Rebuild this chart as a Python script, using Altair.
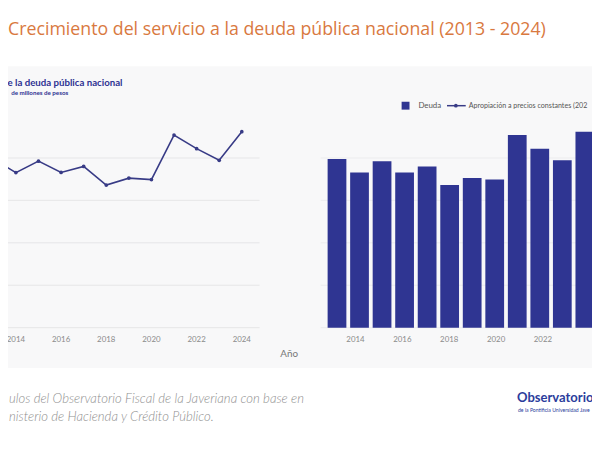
import altair as alt
import pandas as pd

# ---- data ----
years = list(range(2013, 2025))
servicio_deuda = [79500, 73100, 78500, 73200, 76000, 67200, 70500, 69800, 90800, 84400, 78900, 92400]
grid_values = [0, 20000, 40000, 60000, 80000]
tick_years = [2014, 2016, 2018, 2020, 2022, 2024]
tick_labels = ["2014", "2016", "2018", "2020", "2022", "2024"]

df = pd.DataFrame({"year": years, "valor": servicio_deuda})
grid_df = pd.DataFrame({"v": grid_values})
ticks_df = pd.DataFrame({"year": tick_years, "lab": tick_labels})
ticks_r_df = pd.DataFrame({"year": tick_years[:-1], "lab": tick_labels[:-1]})

W, H = 592, 442
FONT = "Lato"
BAR = "#2f3592"
LINE = "#383b86"
NAVY = "#2e3192"

yscale = alt.Scale(domain=[0, 80000], range=[321, 149], nice=False, zero=False)
xl = alt.Scale(domain=[2013, 2024], range=[-14.9, 237], nice=False, zero=False)
xr = alt.Scale(domain=[2013, 2024], range=[328.5, 589.75], nice=False, zero=False)

one = pd.DataFrame({"a": [0]})


def label(text, x, y, size, color, weight="normal", style="normal", font=FONT, align="left"):
    return alt.Chart(one).mark_text(
        text=text, align=align, baseline="middle", fontSize=size, color=color,
        fontWeight=weight, fontStyle=style, font=font
    ).encode(x=alt.value(x), y=alt.value(y))


bg = alt.Chart(one).mark_rect(color="#f8f8f9").encode(
    x=alt.value(0), x2=alt.value(W), y=alt.value(56), y2=alt.value(362)
)

grid_left = alt.Chart(grid_df).mark_rule(color="#e6e6e8", strokeWidth=1).encode(
    y=alt.Y("v:Q", scale=yscale, axis=None), x=alt.value(0), x2=alt.value(255)
)
grid_right = alt.Chart(grid_df).mark_rule(color="#ececee", strokeWidth=1).encode(
    y=alt.Y("v:Q", scale=yscale, axis=None), x=alt.value(317), x2=alt.value(W)
)

line = alt.Chart(df).mark_line(color=LINE, strokeWidth=1.6).encode(
    x=alt.X("year:Q", scale=xl, axis=None),
    y=alt.Y("valor:Q", scale=yscale, axis=None),
)
pts = alt.Chart(df).mark_point(color=LINE, filled=True, size=14, opacity=1).encode(
    x=alt.X("year:Q", scale=xl, axis=None),
    y=alt.Y("valor:Q", scale=yscale, axis=None),
)
left_ticks = alt.Chart(ticks_df).mark_text(fontSize=8, color="#8a8a8a", font=FONT, baseline="middle").encode(
    x=alt.X("year:Q", scale=xl, axis=None), y=alt.value(334), text="lab:N"
)

bars = alt.Chart(df).mark_bar(color=BAR, size=19).encode(
    x=alt.X("year:Q", scale=xr, axis=None),
    y=alt.Y("valor:Q", scale=yscale, axis=None),
)
right_ticks = alt.Chart(ticks_r_df).mark_text(fontSize=8, color="#8a8a8a", font=FONT, baseline="middle").encode(
    x=alt.X("year:Q", scale=xr, axis=None), y=alt.value(334), text="lab:N"
)

# legend (right panel)
leg_sq = alt.Chart(one).mark_square(color=BAR, size=64, opacity=1).encode(x=alt.value(403), y=alt.value(96))
leg_line = alt.Chart(one).mark_rule(color=LINE, strokeWidth=1.5).encode(
    x=alt.value(445), x2=alt.value(464), y=alt.value(96)
)
leg_pt = alt.Chart(one).mark_point(color=LINE, filled=True, size=14, opacity=1).encode(x=alt.value(454), y=alt.value(96))

texts = [
    label("Crecimiento del servicio a la deuda pública nacional (2013 - 2024)", 0, 19, 18, "#d9793f", font="Open Sans"),
    label("e la deuda pública nacional", 116, 73, 9.8, NAVY, weight="bold", align="right"),
    label("de millones de pesos", 61, 83, 6.3, NAVY, weight="bold", align="right"),
    label("Deuda", 416, 96, 8, "#555555"),
    label("Apropiación a precios constantes (202", 467, 96, 7.2, "#555555"),
    label("Año", 285, 348, 10, "#777777", align="center"),
    label("ulos del Observatorio Fiscal de la Javeriana con base en", 1, 393, 13.3, "#8f8f8f", weight=300, style="italic"),
    label("nisterio de Hacienda y Crédito Público.", 1, 412, 13.3, "#8f8f8f", weight=300, style="italic"),
    label("Observatorio", 516, 392, 13.2, "#2b3d9c", weight="bold"),
    label("de la Pontificia Universidad Jave", 517, 404, 5.2, "#2b3d9c"),
]

chart = alt.layer(
    bg, grid_left, grid_right, line, pts, left_ticks, bars, right_ticks,
    leg_sq, leg_line, leg_pt, *texts
).resolve_scale(x="independent").properties(
    width=W, height=H, padding=0, background="white",
    autosize=alt.AutoSizeParams(type="none")
).configure_view(stroke=None)

chart.save("out.html", embed_options={"renderer": "svg", "actions": False})
